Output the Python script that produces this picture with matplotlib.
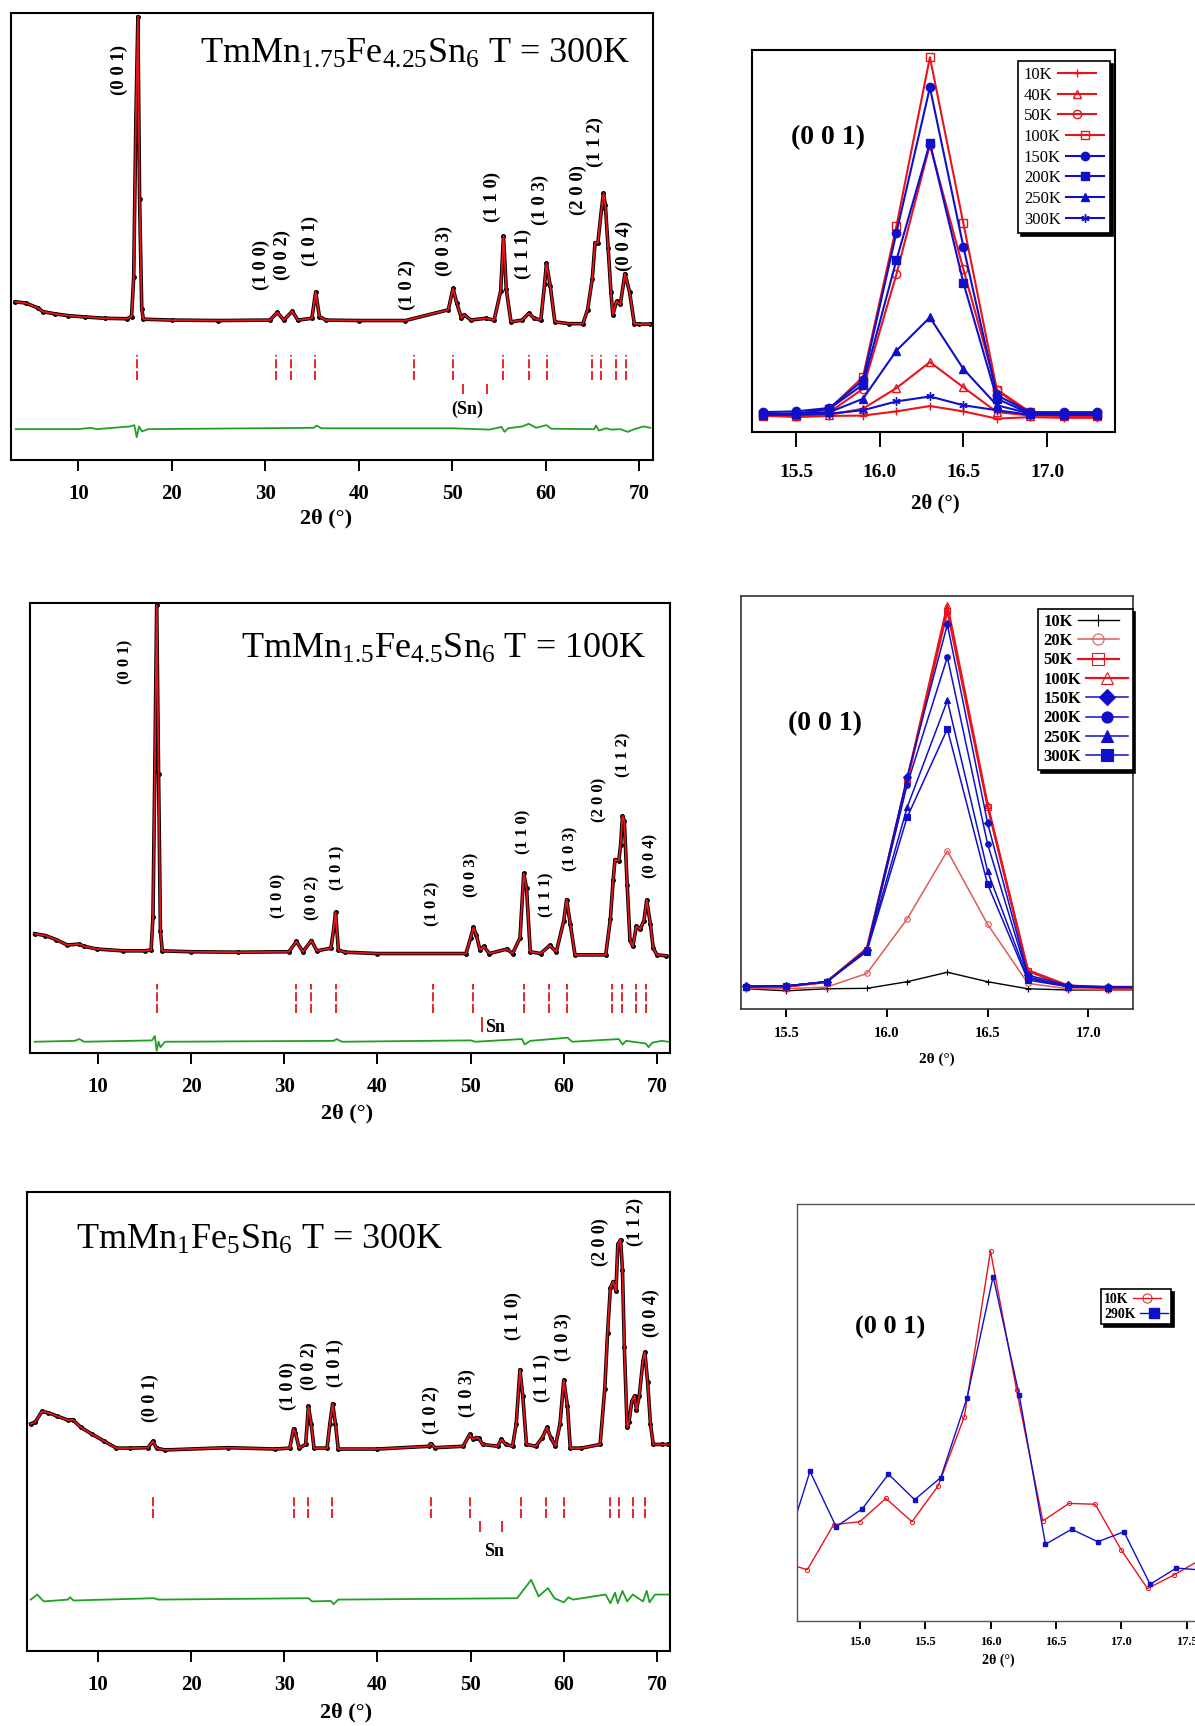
import matplotlib
matplotlib.use('Agg')
import matplotlib.pyplot as plt

plt.rcParams['font.family'] = ['Liberation Serif', 'DejaVu Serif']
plt.rcParams['axes.linewidth'] = 1.5

W, H = 1195, 1726
RED = '#e8141c'
BLUE = '#1010c8'
GREEN = '#22a022'

# ---------------- TmMn1.75Fe4.25Sn6, 300K : Rietveld profile ----------------
a_tth = [3.26, 4.4, 5.7, 6.2, 7.5, 8.9, 10.7, 12.9, 15.2, 15.7, 15.93, 16.16, 16.38, 16.56,
         16.79, 16.97, 20, 25, 30.5, 31.3, 32.0, 32.9, 33.5, 35.0, 35.4, 35.8, 36.5, 40, 45,
         49.6, 50.1, 50.5, 51.0, 51.3, 52.0, 53.6, 54.5, 55.2, 55.5, 55.8, 56.3, 57.5, 58.2,
         58.8, 59.5, 59.9, 60.1, 60.5, 61.0, 62.5, 64.0, 64.5, 65.0, 65.3, 65.6, 66.0, 66.2,
         66.4, 66.7, 67.0, 67.2, 67.6, 68.0, 68.5, 69.0, 69.5, 70.0, 71.2]
a_int = [0.354, 0.351, 0.340, 0.332, 0.327, 0.323, 0.320, 0.317, 0.316, 0.321, 0.409, 0.758,
         0.992, 0.583, 0.338, 0.315, 0.313, 0.312, 0.313, 0.330, 0.313, 0.333, 0.313, 0.317,
         0.376, 0.321, 0.313, 0.312, 0.312, 0.336, 0.384, 0.351, 0.317, 0.325, 0.313, 0.317,
         0.313, 0.378, 0.501, 0.382, 0.309, 0.313, 0.328, 0.317, 0.313, 0.394, 0.440, 0.390,
         0.309, 0.305, 0.305, 0.336, 0.405, 0.486, 0.486, 0.563, 0.597, 0.570, 0.474, 0.375,
         0.325, 0.355, 0.348, 0.417, 0.375, 0.305, 0.304, 0.304]
a_diff_tth = [3.3, 10, 11.3, 12, 15.5, 16.0, 16.25, 16.5, 16.8, 17.5, 35.2, 35.5, 36, 50, 54,
              55.3, 55.6, 56, 57.5, 58.2, 59, 60.1, 60.6, 65.2, 65.4, 65.7, 66.5, 67, 68,
              68.8, 69.5, 70.5, 71.2]
a_diff = [0.069, 0.069, 0.072, 0.069, 0.075, 0.078, 0.051, 0.075, 0.064, 0.069, 0.072, 0.077,
          0.071, 0.071, 0.068, 0.074, 0.063, 0.071, 0.075, 0.081, 0.072, 0.078, 0.070, 0.069,
          0.077, 0.066, 0.071, 0.068, 0.069, 0.063, 0.069, 0.075, 0.072]
a_bragg = [16.3, 31.2, 32.8, 35.35, 45.96, 50.07, 55.48, 58.22, 60.2, 64.97, 65.96, 67.53, 68.65]
a_sn = [51.2, 53.7]
a_hkl = ['(0 0 1)', '(1 0 0)', '(0 0 2)', '(1 0 1)', '(1 0 2)', '(0 0 3)', '(1 1 0)',
         '(1 1 1)', '(1 0 3)', '(2 0 0)', '(1 1 2)', '(0 0 4)']
a_hkl_tth = [14.36, 29.6, 31.8, 34.85, 45.2, 49.2, 54.3, 57.6, 59.4, 63.5, 65.3, 68.4]
a_hkl_y = [0.873, 0.436, 0.459, 0.491, 0.391, 0.468, 0.588, 0.461, 0.582, 0.603, 0.712, 0.478]

# ---------------- TmMn1.5Fe4.5Sn6, 100K : Rietveld profile ----------------
c_tth = [3.2, 4.35, 5.5, 6.7, 8.0, 8.5, 9.9, 12.7, 15.0, 15.7, 15.9, 16.1, 16.3, 16.5, 16.7,
         16.9, 20, 25, 30.5, 31.3, 32.0, 32.9, 33.5, 35.0, 35.3, 35.5, 35.8, 36.5, 40, 49.5,
         50.0, 50.3, 50.6, 51.0, 51.4, 52.0, 53.9, 54.5, 55.3, 55.7, 56.0, 56.4, 57.5, 58.5,
         59.2, 60.0, 60.3, 60.7, 61.2, 64.5, 65.0, 65.3, 65.5, 65.9, 66.1, 66.3, 66.5, 66.8,
         67.1, 67.4, 67.8, 68.2, 68.6, 68.9, 69.3, 69.6, 70.0, 71.0]
c_int = [0.265, 0.261, 0.252, 0.240, 0.242, 0.237, 0.231, 0.227, 0.227, 0.229, 0.303, 0.630,
         0.995, 0.621, 0.271, 0.227, 0.225, 0.224, 0.225, 0.248, 0.225, 0.250, 0.227, 0.233,
         0.275, 0.313, 0.229, 0.224, 0.221, 0.221, 0.256, 0.279, 0.263, 0.229, 0.237, 0.221,
         0.231, 0.221, 0.256, 0.399, 0.366, 0.225, 0.221, 0.239, 0.225, 0.294, 0.341, 0.286,
         0.218, 0.218, 0.298, 0.385, 0.430, 0.427, 0.462, 0.527, 0.515, 0.374, 0.252, 0.237,
         0.282, 0.275, 0.294, 0.340, 0.286, 0.233, 0.218, 0.216]
c_diff_tth = [3.2, 7.5, 8.0, 8.5, 15.8, 16.1, 16.3, 16.5, 16.7, 17.2, 35.3, 35.6, 36.2, 50.0,
              50.5, 55.5, 55.8, 56.4, 60.4, 60.9, 65.9, 66.3, 66.7, 68.8, 69.1, 69.5, 70.5, 71.2]
c_diff = [0.025, 0.027, 0.031, 0.025, 0.028, 0.038, 0.005, 0.025, 0.013, 0.025, 0.027, 0.031,
          0.025, 0.028, 0.025, 0.031, 0.019, 0.027, 0.034, 0.025, 0.031, 0.019, 0.027, 0.021,
          0.013, 0.023, 0.027, 0.025]
c_bragg = [16.3, 31.3, 32.9, 35.5, 46.0, 50.2, 55.7, 58.4, 60.3, 65.2, 66.25, 67.8, 68.85]
c_sn = [51.2]
c_hkl = ['(1 0 0)', '(0 0 2)', '(1 0 1)', '(1 0 2)', '(0 0 3)', '(1 1 0)', '(1 1 1)',
         '(1 0 3)', '(2 0 0)', '(1 1 2)', '(0 0 4)', '(0 0 1)']
c_hkl_tth = [29.35, 32.96, 35.74, 45.9, 50.1, 55.7, 58.1, 60.7, 63.8, 66.4, 69.3, 12.9]
c_hkl_y = [0.349, 0.345, 0.412, 0.332, 0.395, 0.492, 0.351, 0.454, 0.563, 0.662, 0.439, 0.870]

# ---------------- TmMn1Fe5Sn6, 300K : Rietveld profile ----------------
e_tth = [2.8, 3.3, 4.0, 4.7, 5.6, 6.8, 7.3, 8.2, 9.4, 10.7, 12.0, 13.5, 15.4, 15.9, 16.3,
         17.2, 24.0, 29.0, 30.6, 31.0, 31.2, 31.6, 32.3, 32.6, 32.9, 33.2, 34.6, 34.9, 35.2,
         35.5, 35.8, 40.0, 45.5, 45.7, 46.2, 49.2, 49.9, 50.3, 50.6, 50.9, 51.3, 52.9, 53.3,
         53.8, 54.5, 54.9, 55.3, 55.6, 56.0, 57.0, 57.7, 58.2, 58.6, 59.1, 59.6, 60.0, 60.4,
         60.7, 61.9, 63.9, 64.4, 64.7, 65.0, 65.3, 65.6, 65.8, 66.1, 66.3, 66.5, 66.8, 67.0,
         67.3, 67.6, 67.8, 68.1, 68.5, 68.7, 69.0, 69.3, 69.6, 70.5, 71.2]
e_int = [0.495, 0.499, 0.522, 0.519, 0.512, 0.503, 0.504, 0.487, 0.472, 0.457, 0.442, 0.442,
         0.443, 0.457, 0.442, 0.438, 0.443, 0.440, 0.442, 0.484, 0.476, 0.442, 0.450, 0.533,
         0.495, 0.442, 0.442, 0.495, 0.539, 0.495, 0.440, 0.440, 0.446, 0.452, 0.443, 0.446,
         0.472, 0.461, 0.465, 0.463, 0.450, 0.446, 0.461, 0.450, 0.446, 0.495, 0.613, 0.556,
         0.450, 0.446, 0.465, 0.487, 0.465, 0.446, 0.495, 0.590, 0.533, 0.442, 0.442, 0.450,
         0.571, 0.692, 0.791, 0.805, 0.784, 0.886, 0.896, 0.829, 0.662, 0.487, 0.499, 0.544,
         0.556, 0.525, 0.556, 0.632, 0.651, 0.586, 0.495, 0.450, 0.450, 0.450]
e_diff_tth = [2.8, 3.5, 4.2, 6.8, 7.0, 7.4, 16.0, 16.5, 32.6, 33.0, 35.0, 35.3, 35.8, 55.0,
              56.5, 57.3, 58.3, 59.0, 60.0, 60.5, 61.0, 64.5, 65.0, 65.5, 65.8, 66.3, 66.8,
              67.4, 68.0, 68.5, 68.9, 69.2, 69.8, 71.2]
e_diff = [0.112, 0.123, 0.108, 0.112, 0.117, 0.110, 0.115, 0.112, 0.115, 0.108, 0.109, 0.102,
          0.112, 0.115, 0.155, 0.119, 0.137, 0.115, 0.106, 0.117, 0.112, 0.123, 0.104, 0.127,
          0.104, 0.131, 0.108, 0.123, 0.115, 0.108, 0.131, 0.106, 0.123, 0.123]
e_bragg = [15.9, 31.0, 32.6, 35.1, 45.7, 49.95, 55.4, 58.1, 60.0, 65.0, 65.9, 67.45, 68.7]
e_sn = [51.0, 53.4]
e_hkl = ['(0 0 1)', '(1 0 0)', '(0 0 2)', '(1 0 1)', '(1 0 2)', '(1 0 3)', '(1 1 0)',
         '(1 1 1)', '(1 0 3)', '(2 0 0)', '(1 1 2)', '(0 0 4)']
e_hkl_tth = [15.6, 30.4, 32.7, 35.5, 45.8, 49.6, 54.6, 57.7, 60.0, 63.9, 67.7, 69.4]
e_hkl_y = [0.552, 0.577, 0.620, 0.628, 0.524, 0.563, 0.730, 0.595, 0.683, 0.891, 0.934, 0.737]

# ---------------- (0 0 1) peak vs temperature, first sample ----------------
b_tth = [15.3, 15.5, 15.7, 15.9, 16.1, 16.3, 16.5, 16.7, 16.9, 17.1, 17.3]
b_labels = ['10K', '40K', '50K', '100K', '150K', '200K', '250K', '300K']
b_10K = [0.043, 0.039, 0.042, 0.043, 0.054, 0.068, 0.054, 0.035, 0.039, 0.037, 0.037]
b_40K = [0.048, 0.043, 0.045, 0.061, 0.115, 0.183, 0.117, 0.052, 0.043, 0.042, 0.042]
b_50K = [0.045, 0.045, 0.052, 0.113, 0.413, 0.752, 0.426, 0.109, 0.048, 0.043, 0.043]
b_100K = [0.043, 0.043, 0.061, 0.144, 0.539, 0.981, 0.546, 0.111, 0.052, 0.045, 0.045]
b_150K = [0.052, 0.054, 0.063, 0.135, 0.522, 0.902, 0.485, 0.096, 0.052, 0.052, 0.052]
b_200K = [0.048, 0.048, 0.061, 0.124, 0.450, 0.757, 0.391, 0.087, 0.048, 0.048, 0.048]
b_250K = [0.045, 0.048, 0.052, 0.087, 0.213, 0.300, 0.165, 0.070, 0.048, 0.045, 0.045]
b_300K = [0.045, 0.045, 0.048, 0.057, 0.080, 0.093, 0.070, 0.057, 0.045, 0.045, 0.045]

# ---------------- (0 0 1) peak vs temperature, second sample ----------------
d_tth = [15.3, 15.5, 15.7, 15.9, 16.1, 16.3, 16.5, 16.7, 16.9, 17.1, 17.3]
d_labels = ['10K', '20K', '50K', '100K', '150K', '200K', '250K', '300K']
d_10K = [0.049, 0.044, 0.049, 0.050, 0.066, 0.089, 0.066, 0.049, 0.046, 0.046, 0.046]
d_20K = [0.050, 0.049, 0.053, 0.086, 0.218, 0.383, 0.205, 0.062, 0.049, 0.046, 0.046]
d_50K = [0.053, 0.054, 0.065, 0.143, 0.551, 0.964, 0.490, 0.092, 0.054, 0.050, 0.050]
d_100K = [0.054, 0.054, 0.066, 0.147, 0.555, 0.978, 0.495, 0.094, 0.057, 0.052, 0.052]
d_150K = [0.056, 0.056, 0.066, 0.143, 0.562, 0.931, 0.450, 0.082, 0.057, 0.054, 0.054]
d_200K = [0.054, 0.056, 0.066, 0.143, 0.543, 0.852, 0.399, 0.078, 0.054, 0.054, 0.054]
d_250K = [0.054, 0.056, 0.066, 0.143, 0.488, 0.747, 0.333, 0.074, 0.054, 0.054, 0.054]
d_300K = [0.054, 0.056, 0.066, 0.139, 0.464, 0.678, 0.302, 0.070, 0.054, 0.052, 0.052]

# ---------------- (0 0 1) peak, third sample ----------------
f_tth_10K = [14.4, 14.6, 14.8, 15.0, 15.2, 15.4, 15.6, 15.8, 16.0, 16.2, 16.4, 16.6, 16.8,
             17.0, 17.2, 17.4, 17.6]
f_10K = [0.142, 0.123, 0.231, 0.238, 0.294, 0.238, 0.324, 0.490, 0.887, 0.553, 0.240, 0.282,
         0.280, 0.170, 0.078, 0.110, 0.146]
f_tth_290K = [14.42, 14.62, 14.82, 15.02, 15.22, 15.42, 15.62, 15.82, 16.02, 16.22, 16.42,
              16.62, 16.82, 17.02, 17.22, 17.42, 17.62]
f_290K = [0.158, 0.359, 0.226, 0.269, 0.352, 0.291, 0.344, 0.534, 0.826, 0.541, 0.184, 0.220,
          0.190, 0.214, 0.088, 0.127, 0.122]


def rect(l, t, r, b):
    return [l / W, 1 - b / H, (r - l) / W, (b - t) / H]


def bold_ticks(ax, ticks, fmt, size, length, pad):
    ax.set_xticks(ticks)
    ax.set_xticklabels([fmt % t for t in ticks], fontweight='bold', fontsize=size)
    ax.set_yticks([])
    ax.tick_params(axis='x', direction='out', length=length, width=1.4, pad=pad)


def left_align(leg):
    # label first, line after it, items flush left like the original
    for col in leg._legend_handle_box.get_children():
        col.align = 'left'
    leg.get_frame().set_linewidth(1.2)


def rietveld(ax, tth, inten, dtth, diff, bragg, blo, bhi, sn, slo, shi, hkl, htth, hy,
             hsize, xlim):
    ax.plot(dtth, diff, color=GREEN, lw=1.3)
    ax.vlines(bragg, blo, bhi, colors=RED, lw=1.3, linestyles=(0, (5, 1.5)))
    ax.vlines(sn, slo, shi, colors=RED, lw=1.3)
    ax.plot(tth, inten, color='black', lw=2.6, marker='o', ms=2.5)
    ax.plot(tth, inten, color=RED, lw=1.3)
    for lab, x, y in zip(hkl, htth, hy):
        ax.text(x, y, lab, rotation=90, ha='center', va='center', fontsize=hsize,
                fontweight='bold')
    ax.set_xlim(*xlim)
    ax.set_ylim(0, 1)
    bold_ticks(ax, [10, 20, 30, 40, 50, 60, 70], '%d', 15, 8, 9)


fig = plt.figure(figsize=(W / 100, H / 100), dpi=100)

# ---- top left ----
ax1 = fig.add_axes(rect(11, 13, 653, 460))
rietveld(ax1, a_tth, a_int, a_diff_tth, a_diff, a_bragg, 0.180, 0.234, a_sn, 0.148, 0.171,
         a_hkl, a_hkl_tth, a_hkl_y, 13.5, (2.8, 71.5))
ax1.text(69.1, 0.907, r'TmMn$\mathregular{_{1.75}}$Fe$\mathregular{_{4.25}}$Sn$\mathregular{_6}$ T = 300K',
         ha='right', va='center', fontsize=26)
ax1.text(51.66, 0.114, '(Sn)', ha='center', va='center', fontsize=13, fontweight='bold')
ax1.set_xlabel('2θ (°)', fontsize=16, fontweight='bold', va='center')
ax1.xaxis.set_label_coords(0.49, -0.130)

# ---- middle left ----
ax3 = fig.add_axes(rect(30, 603, 670, 1053))
rietveld(ax3, c_tth, c_int, c_diff_tth, c_diff, c_bragg, 0.089, 0.153, c_sn, 0.046, 0.080,
         c_hkl, c_hkl_tth, c_hkl_y, 12, (2.7, 71.4))
ax3.text(68.8, 0.898, r'TmMn$\mathregular{_{1.5}}$Fe$\mathregular{_{4.5}}$Sn$\mathregular{_6}$ T = 100K',
         ha='right', va='center', fontsize=26)
ax3.text(51.5, 0.056, 'Sn', ha='left', va='center', fontsize=13, fontweight='bold')
ax3.set_xlabel('2θ (°)', fontsize=16, fontweight='bold', va='center')
ax3.xaxis.set_label_coords(0.496, -0.135)

# ---- bottom left ----
ax5 = fig.add_axes(rect(27, 1192, 670, 1651))
rietveld(ax5, e_tth, e_int, e_diff_tth, e_diff, e_bragg, 0.290, 0.339, e_sn, 0.260, 0.284,
         e_hkl, e_hkl_tth, e_hkl_y, 13, (2.4, 71.4))
ax5.text(7.7, 0.895, r'TmMn$\mathregular{_1}$Fe$\mathregular{_5}$Sn$\mathregular{_6}$ T = 300K',
         ha='left', va='center', fontsize=26)
ax5.text(52.5, 0.216, 'Sn', ha='center', va='center', fontsize=13, fontweight='bold')
ax5.set_xlabel('2θ (°)', fontsize=16, fontweight='bold', va='center')
ax5.xaxis.set_label_coords(0.496, -0.133)

# ---- top right ----
ax2 = fig.add_axes(rect(752, 50, 1115, 432))
b_series = [b_10K, b_40K, b_50K, b_100K, b_150K, b_200K, b_250K, b_300K]
b_style = [('+', RED, 'none'), ('^', RED, 'none'), ('o', RED, 'none'), ('s', RED, 'none'),
           ('o', BLUE, BLUE), ('s', BLUE, BLUE), ('^', BLUE, BLUE), ((6, 2, 0), BLUE, BLUE)]
for vals, lab, (mk, col, fc) in zip(b_series, b_labels, b_style):
    ax2.plot(b_tth, vals, color=col, lw=1.5, marker=mk, ms=6, mfc=fc, mec=col, mew=1.0,
             label=lab)
ax2.set_xlim(15.237, 17.406)
ax2.set_ylim(0, 1)
bold_ticks(ax2, [15.5, 16.0, 16.5, 17.0], '%.1f', 14, 11, 12)
ax2.text(15.69, 0.77, '(0 0 1)', ha='center', va='center', fontsize=20, fontweight='bold')
ax2.set_xlabel('2θ (°)', fontsize=15, fontweight='bold', va='center')
ax2.xaxis.set_label_coords(0.506, -0.186)
leg = ax2.legend(loc='upper left', bbox_to_anchor=(0.733, 0.971), borderaxespad=0,
                 markerfirst=False, handlelength=2.3, handletextpad=0.3, labelspacing=0.28,
                 borderpad=0.35, fancybox=False, framealpha=1, edgecolor='black',
                 shadow={'color': 'black', 'alpha': 1}, prop={'size': 12})
left_align(leg)

# ---- middle right ----
ax4 = fig.add_axes(rect(741, 596, 1133, 1009))
d_series = [d_10K, d_20K, d_50K, d_100K, d_150K, d_200K, d_250K, d_300K]
d_style = [('+', 'black', 'none', 1.0), ('o', '#e05a5a', 'none', 1.1), ('s', RED, 'none', 1.6),
           ('^', RED, 'none', 1.6), ('D', BLUE, BLUE, 1.1), ('o', BLUE, BLUE, 1.1),
           ('^', BLUE, BLUE, 1.1), ('s', BLUE, BLUE, 1.1)]
for vals, lab, (mk, col, fc, lw) in zip(d_series, d_labels, d_style):
    ax4.plot(d_tth, vals, color=col, lw=lw, marker=mk, ms=4, mfc=fc, mec=col, mew=0.8,
             label=lab)
ax4.set_xlim(15.275, 17.222)
ax4.set_ylim(0, 1)
for sp in ax4.spines.values():
    sp.set_linewidth(1.2)
    sp.set_color('#333333')
bold_ticks(ax4, [15.5, 16.0, 16.5, 17.0], '%.1f', 10.5, 6, 7)
ax4.text(15.69, 0.692, '(0 0 1)', ha='center', va='center', fontsize=20, fontweight='bold')
ax4.set_xlabel('2θ (°)', fontsize=11, fontweight='bold', va='center')
ax4.xaxis.set_label_coords(0.499, -0.121)
leg = ax4.legend(loc='upper left', bbox_to_anchor=(0.758, 0.969), borderaxespad=0,
                 markerfirst=False, handlelength=2.5, handletextpad=0.3, labelspacing=0.2,
                 borderpad=0.3, fancybox=False, framealpha=1, edgecolor='black',
                 markerscale=2.0, shadow={'color': 'black', 'alpha': 1},
                 prop={'size': 12, 'weight': 'bold'})
left_align(leg)

# ---- bottom right ----
ax6 = fig.add_axes(rect(797, 1204, 1226, 1621))
ax6.plot(f_tth_10K, f_10K, color=RED, lw=1.0, marker='o', ms=3, mfc='none', mec=RED,
         mew=0.7, label='10K')
ax6.plot(f_tth_290K, f_290K, color=BLUE, lw=1.0, marker='s', ms=3, mfc=BLUE, mec=BLUE,
         label='290K')
ax6.set_xlim(14.521, 17.8)
ax6.set_ylim(0, 1)
for sp in ax6.spines.values():
    sp.set_linewidth(1.0)
    sp.set_color('#555555')
bold_ticks(ax6, [15.0, 15.5, 16.0, 16.5, 17.0, 17.5], '%.1f', 9, 6, 5)
ax6.text(15.23, 0.705, '(0 0 1)', ha='center', va='center', fontsize=19, fontweight='bold')
ax6.set_xlabel('2θ (°)', fontsize=10, fontweight='bold', va='center')
ax6.xaxis.set_label_coords(0.469, -0.0935)
leg = ax6.legend(loc='upper left', bbox_to_anchor=(0.708, 0.796), borderaxespad=0,
                 markerfirst=False, handlelength=2.0, handletextpad=0.3, labelspacing=0.15,
                 borderpad=0.25, fancybox=False, framealpha=1, edgecolor='black',
                 markerscale=2.2, shadow={'color': 'black', 'alpha': 1},
                 prop={'size': 10, 'weight': 'bold'})
left_align(leg)

fig.savefig('out.png', dpi=100)
